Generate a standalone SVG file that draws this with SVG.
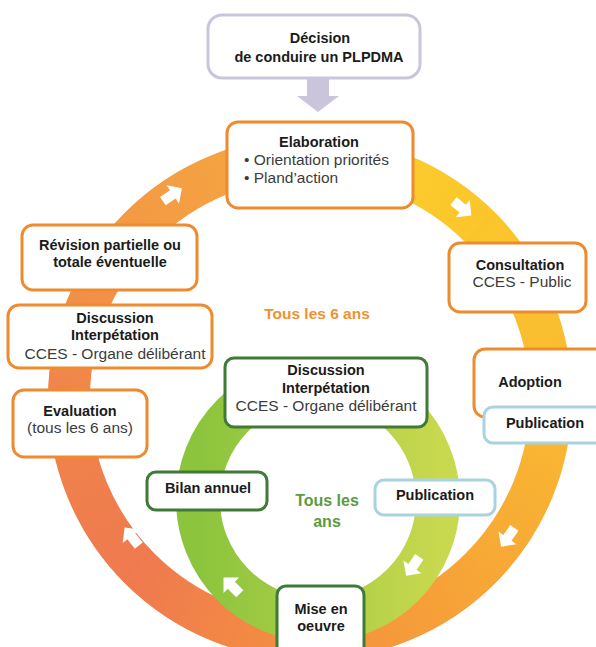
<svg xmlns="http://www.w3.org/2000/svg" xmlns:xlink="http://www.w3.org/1999/xlink" width="596" height="647" viewBox="0 0 596 647">
<style>
.ob{fill:#fff;stroke:#EE8B2F;stroke-width:3}
.gb{fill:#fff;stroke:#3E7B37;stroke-width:3}
.bb{fill:#fff;stroke:#A9D3DF;stroke-width:3}
.db{fill:#fff;stroke:#CAC5DB;stroke-width:3}
.b{font-family:"Liberation Sans",Arial,sans-serif;font-weight:bold;font-size:14.5px;fill:#1b1b1b;text-anchor:middle}
.r{font-family:"Liberation Sans",Arial,sans-serif;font-size:15.5px;fill:#3c3c3c;text-anchor:middle}
.l{text-anchor:start}
.seg{fill:none;stroke-width:42}
.wa{fill:#fff}
</style>
<defs>
<path id="arr" d="M-11,-5 H1 V-11 L12,0 L1,11 V5 H-11 Z"/>
<linearGradient id="g1" gradientUnits="userSpaceOnUse" x1="310" y1="157" x2="480.4" y2="227.6"><stop offset="0" stop-color="#FDD02A"/><stop offset="1" stop-color="#FBC62C"/></linearGradient>
<linearGradient id="g2" gradientUnits="userSpaceOnUse" x1="480.4" y1="227.6" x2="551" y2="398"><stop offset="0" stop-color="#FBC62C"/><stop offset="1" stop-color="#F9BA31"/></linearGradient>
<linearGradient id="g3" gradientUnits="userSpaceOnUse" x1="551" y1="398" x2="480.4" y2="568.4"><stop offset="0" stop-color="#F9BA31"/><stop offset="1" stop-color="#F7A736"/></linearGradient>
<linearGradient id="g4" gradientUnits="userSpaceOnUse" x1="480.4" y1="568.4" x2="310" y2="639"><stop offset="0" stop-color="#F7A736"/><stop offset="1" stop-color="#F4903F"/></linearGradient>
<linearGradient id="g5" gradientUnits="userSpaceOnUse" x1="310" y1="639" x2="139.6" y2="568.4"><stop offset="0" stop-color="#F4903F"/><stop offset="1" stop-color="#EF7A4F"/></linearGradient>
<linearGradient id="g6" gradientUnits="userSpaceOnUse" x1="139.6" y1="568.4" x2="69" y2="398"><stop offset="0" stop-color="#EF7A4F"/><stop offset="1" stop-color="#F0844A"/></linearGradient>
<linearGradient id="g7" gradientUnits="userSpaceOnUse" x1="69" y1="398" x2="139.6" y2="227.6"><stop offset="0" stop-color="#F0844A"/><stop offset="1" stop-color="#F39A44"/></linearGradient>
<linearGradient id="g8" gradientUnits="userSpaceOnUse" x1="139.6" y1="227.6" x2="310" y2="157"><stop offset="0" stop-color="#F39A44"/><stop offset="1" stop-color="#F6AA40"/></linearGradient>
<linearGradient id="gg" x1="0" y1="0" x2="1" y2="0"><stop offset="0" stop-color="#8CC43E"/><stop offset="0.5" stop-color="#A9CD44"/><stop offset="1" stop-color="#C8D84F"/></linearGradient>
</defs>

<g id="connectors">
  <circle cx="310" cy="398" r="241" fill="none" stroke="#F5A03C" stroke-width="41"/>
  <path class="seg" stroke="url(#g1)" d="M310,157 A241,241 0 0 1 480.4,227.6"/>
  <path class="seg" stroke="url(#g2)" d="M480.4,227.6 A241,241 0 0 1 551,398"/>
  <path class="seg" stroke="url(#g3)" d="M551,398 A241,241 0 0 1 480.4,568.4"/>
  <path class="seg" stroke="url(#g4)" d="M480.4,568.4 A241,241 0 0 1 310,639"/>
  <path class="seg" stroke="url(#g5)" d="M310,639 A241,241 0 0 1 139.6,568.4"/>
  <path class="seg" stroke="url(#g6)" d="M139.6,568.4 A241,241 0 0 1 69,398"/>
  <path class="seg" stroke="url(#g7)" d="M69,398 A241,241 0 0 1 139.6,227.6"/>
  <path class="seg" stroke="url(#g8)" d="M139.6,227.6 A241,241 0 0 1 310,157"/>
  <circle cx="318" cy="500" r="120" fill="none" stroke="url(#gg)" stroke-width="44"/>
  <use href="#arr" class="wa" transform="translate(172,195) rotate(-34)"/>
  <use href="#arr" class="wa" transform="translate(462,208) rotate(39)"/>
  <use href="#arr" class="wa" transform="translate(508,537) rotate(125)"/>
  <use href="#arr" class="wa" transform="translate(132,537) rotate(232)"/>
  <use href="#arr" class="wa" transform="translate(232,586) rotate(225)"/>
  <use href="#arr" class="wa" transform="translate(413,566) rotate(125)"/>
  <path fill="#CAC5DB" d="M307,78 H329 V96 H339 L318,112 L297,96 H307 Z"/>
</g>

<g id="decision">
  <rect class="db" x="208" y="15" width="212" height="63" rx="14"/>
  <text class="b" x="320" y="43">Décision</text>
  <text class="b" x="319" y="62">de conduire un PLPDMA</text>
</g>

<g id="elaboration">
  <rect class="ob" x="227" y="122" width="186" height="86" rx="11"/>
  <text class="b" x="319" y="147">Elaboration</text>
  <text class="r l" x="244" y="165">• Orientation priorités</text>
  <text class="r l" x="244" y="183">• Pland’action</text>
</g>

<g id="consultation">
  <rect class="ob" x="449" y="243" width="137" height="69" rx="11"/>
  <text class="b" x="520" y="270">Consultation</text>
  <text class="r" x="522" y="287">CCES - Public</text>
</g>

<g id="adoption">
  <rect class="ob" x="474" y="349" width="150" height="68" rx="11"/>
  <text class="b" x="530" y="387">Adoption</text>
</g>

<g id="publication-1">
  <rect class="bb" x="484" y="407" width="140" height="36" rx="9"/>
  <text class="b" x="545" y="428">Publication</text>
</g>

<g id="revision">
  <rect class="ob" x="22" y="225" width="175" height="65" rx="11"/>
  <text class="b" x="110" y="250">Révision partielle ou</text>
  <text class="b" x="110" y="267">totale éventuelle</text>
</g>

<g id="discussion-1">
  <rect class="ob" x="8" y="305" width="204" height="63" rx="11"/>
  <text class="b" x="115" y="323">Discussion</text>
  <text class="b" x="115" y="340">Interpétation</text>
  <text class="r" x="115" y="359">CCES - Organe délibérant</text>
</g>

<g id="evaluation">
  <rect class="ob" x="13" y="390" width="134" height="67" rx="11"/>
  <text class="b" x="80" y="416">Evaluation</text>
  <text class="r" x="80" y="433">(tous les 6 ans)</text>
</g>

<g id="label-6ans">
  <text class="b" x="317" y="319" style="fill:#F0922F;font-size:15.5px">Tous les 6 ans</text>
</g>

<g id="discussion-2">
  <rect class="gb" x="225" y="358" width="202" height="69" rx="9"/>
  <text class="b" x="326" y="375">Discussion</text>
  <text class="b" x="326" y="393">Interpétation</text>
  <text class="r" x="326" y="411">CCES - Organe délibérant</text>
</g>

<g id="bilan">
  <rect class="gb" x="147" y="472" width="120" height="38" rx="9"/>
  <text class="b" x="208" y="493">Bilan annuel</text>
</g>

<g id="publication-2">
  <rect class="bb" x="375" y="480" width="120" height="35" rx="9"/>
  <text class="b" x="435" y="500">Publication</text>
</g>

<g id="label-ans">
  <text class="b" x="327" y="506" style="fill:#5C9B43;font-size:16px">Tous les</text>
  <text class="b" x="327" y="527" style="fill:#5C9B43;font-size:16px">ans</text>
</g>

<g id="mise-en-oeuvre">
  <rect class="gb" x="277" y="586" width="87" height="75" rx="9"/>
  <text class="b" x="321" y="614">Mise en</text>
  <text class="b" x="321" y="631">oeuvre</text>
</g>
</svg>
